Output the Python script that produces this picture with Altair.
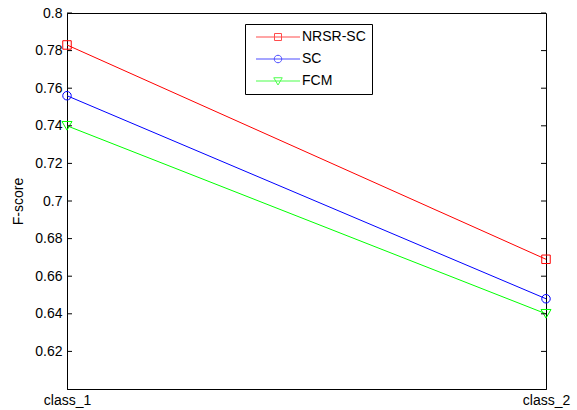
import altair as alt
import pandas as pd

categories = ["class_1", "class_2"]
series_names = ["NRSR-SC", "SC", "FCM"]
nrsr_sc = [0.783, 0.669]
sc = [0.756, 0.648]
fcm = [0.740, 0.640]
colors = ["#ff0000", "#0000ff", "#00ff00"]
point_shapes = ["square", "circle", "triangle-down"]
point_sizes = [72, 72, 100]
y_ticks = [0.62, 0.64, 0.66, 0.68, 0.70, 0.72, 0.74, 0.76, 0.78, 0.80]

legend_paths = [
    "M-4.4,0H4.4M-0.7,-0.7H0.7V0.7H-0.7Z",
    "M-4.4,0H4.4M0.75,0A0.75,0.75,0,1,1,-0.75,0A0.75,0.75,0,1,1,0.75,0",
    "M-4.4,0H4.4M-0.85,-0.65H0.85L0,0.8Z",
]

rows = []
for name, vals in zip(series_names, [nrsr_sc, sc, fcm]):
    for c, v in zip(categories, vals):
        rows.append({"series": name, "cls": c, "value": v})
df = pd.DataFrame(rows)
ticks_df = pd.DataFrame({"value": y_ticks})

W, H = 479, 376
FONT = "Liberation Sans"

x_enc = alt.X(
    "cls:N",
    scale=alt.Scale(type="point", padding=0, domain=categories),
    axis=alt.Axis(title=None, labelAngle=0, ticks=False, labelPadding=4,
                  domainColor="black"),
)
y_scale = alt.Scale(domain=[0.6, 0.8], nice=False, zero=False)
y_enc = alt.Y(
    "value:Q",
    scale=y_scale,
    axis=alt.Axis(title="F-score", values=y_ticks, format=".2~f", ticks=False,
                  grid=False, labelPadding=5, titlePadding=9, domainColor="black"),
)

base = alt.Chart(df)

layers = []
for name, col, shp, sz in zip(series_names, colors, point_shapes, point_sizes):
    sub = base.transform_filter(alt.datum.series == name)
    layers.append(
        sub.mark_line(strokeWidth=1, color=col).encode(x=x_enc, y=y_enc)
    )
    layers.append(
        sub.mark_point(shape=shp, size=sz, filled=False, strokeWidth=1,
                       opacity=1, color=col).encode(x=x_enc, y=y_enc)
    )

leg_props = dict(
    title=None, orient="none", legendX=178, legendY=11,
    padding=6, strokeColor="black", fillColor="white",
    labelFont=FONT, labelFontSize=14, labelColor="black",
    symbolSize=100, symbolStrokeWidth=1, symbolOffset=20,
    labelOffset=17, rowPadding=8,
)

legend_layer = base.transform_filter("false").mark_point(
    filled=False, strokeWidth=1, size=100
).encode(
    x=x_enc, y=y_enc,
    color=alt.Color("series:N",
                    scale=alt.Scale(domain=series_names, range=colors),
                    legend=alt.Legend(**leg_props)),
    shape=alt.Shape("series:N",
                    scale=alt.Scale(domain=series_names, range=legend_paths),
                    legend=alt.Legend(**leg_props)),
)
layers.append(legend_layer)

left_ticks = alt.Chart(ticks_df).mark_rule(color="black", strokeWidth=1).encode(
    y=y_enc, x=alt.value(0), x2=alt.value(5)
)
right_ticks = alt.Chart(ticks_df).mark_rule(color="black", strokeWidth=1).encode(
    y=y_enc, x=alt.value(W - 5), x2=alt.value(W)
)
layers += [left_ticks, right_ticks]

chart = alt.layer(*layers).properties(
    width=W, height=H,
    autosize=alt.AutoSizeParams(type="none"),
    padding={"left": 67, "top": 13, "right": 31, "bottom": 21},
    background="white",
).configure_view(
    stroke="black", strokeWidth=1
).configure_axis(
    labelFont=FONT, labelFontSize=14, labelColor="black",
    titleFont=FONT, titleFontSize=14, titleFontWeight="normal", titleColor="black",
    domainWidth=1,
)

chart.save("out.html", embed_options={"renderer": "svg", "actions": False})
